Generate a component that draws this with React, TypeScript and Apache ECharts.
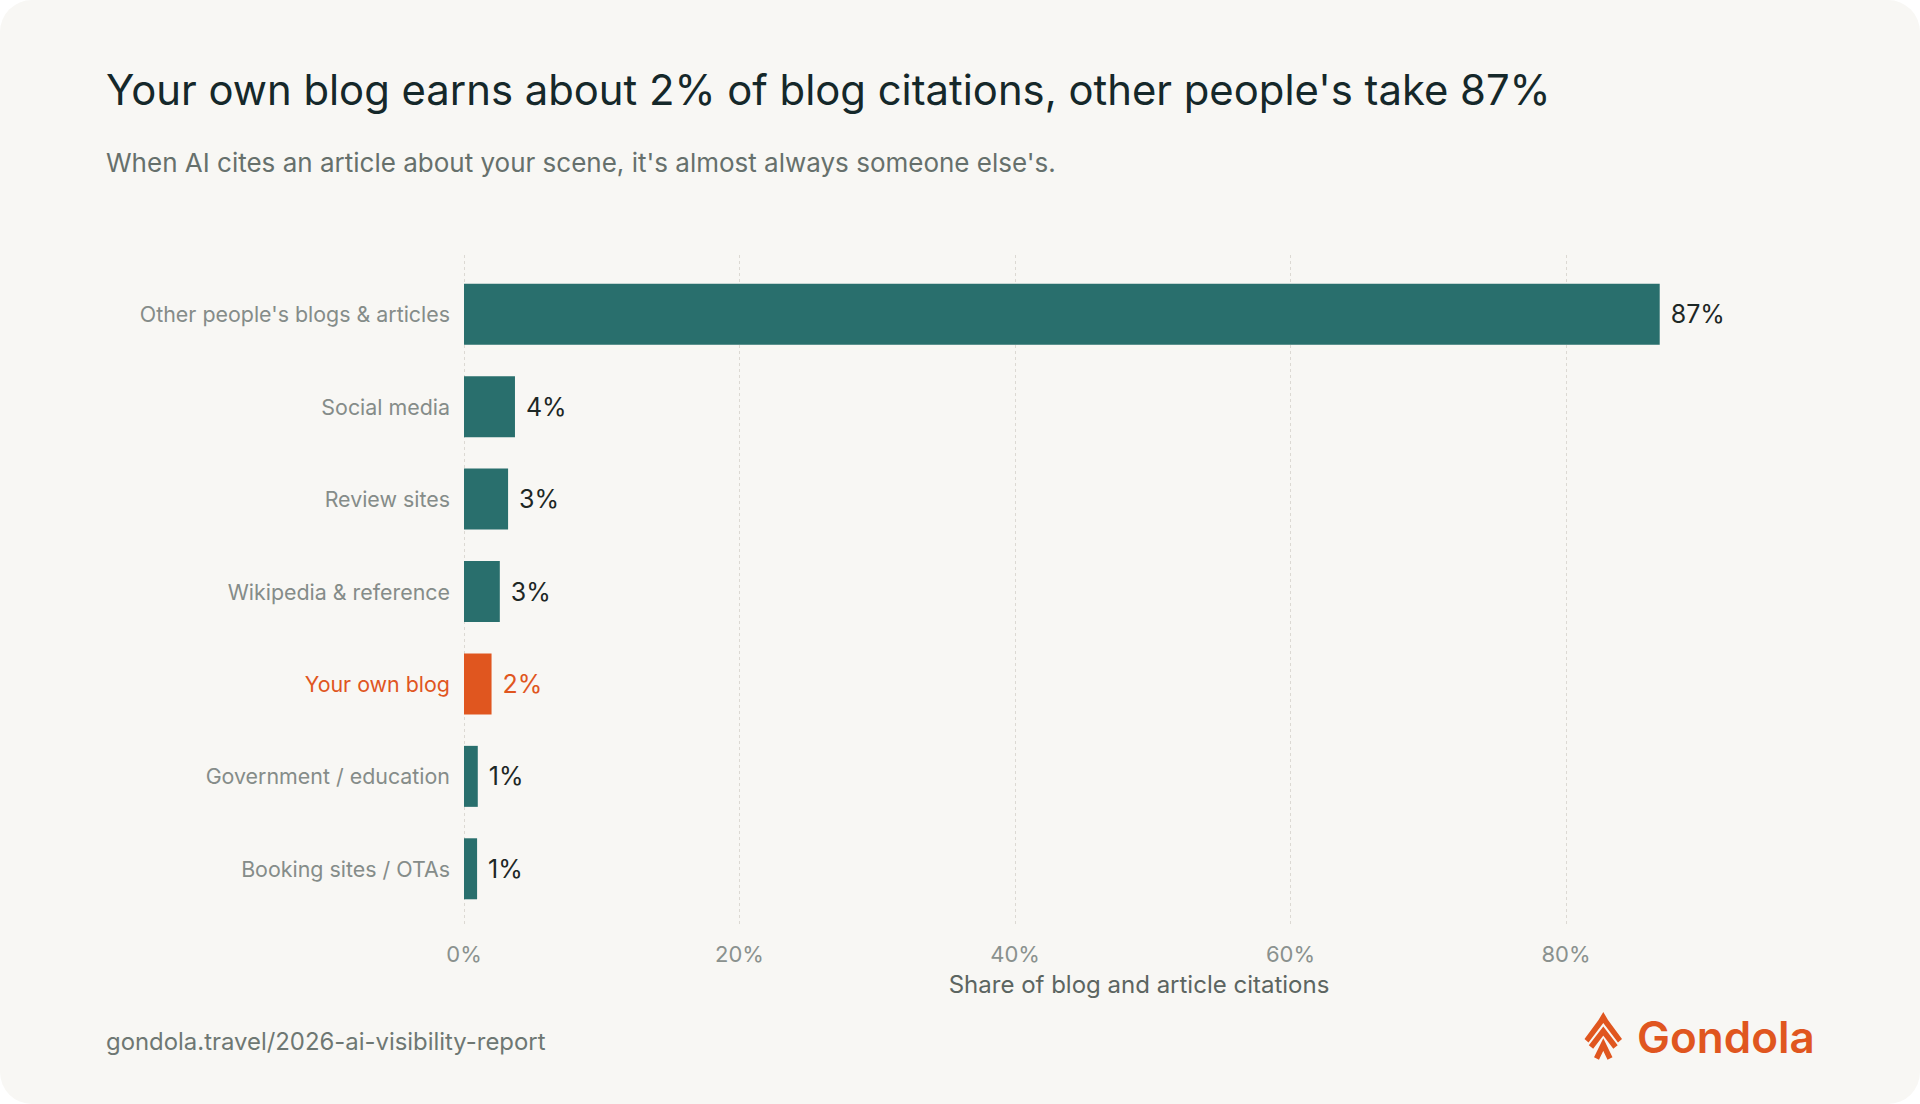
import React, { useEffect, useRef } from "react";
import * as echarts from "echarts";

const categories = [
  "Other people's blogs & articles",
  "Social media",
  "Review sites",
  "Wikipedia & reference",
  "Your own blog",
  "Government / education",
  "Booking sites / OTAs",
];
const shares = [86.8, 3.7, 3.2, 2.6, 2.0, 1.0, 0.95];
const highlightCategory = "Your own blog";

const titleText = "Your own blog earns about 2% of blog citations, other people's take 87%";
const subtitleText = "When AI cites an article about your scene, it's almost always someone else's.";
const axisTitle = "Share of blog and article citations";
const sourceText = "gondola.travel/2026-ai-visibility-report";
const brandText = "Gondola";

const FONT = "Inter, 'Noto Sans', sans-serif";
const CARD = "#f8f7f4";
const TEAL = "#296f6d";
const ORANGE = "#e0561f";
const GRID = "#dcd9d3";

export default function App() {
  const ref = useRef<HTMLDivElement>(null);
  useEffect(() => {
    document.body.style.margin = "0";
    const chart = echarts.init(ref.current!, undefined, { renderer: "svg", width: 1920, height: 1104 });
    const option: any = {
      animation: false,
      backgroundColor: "transparent",
      textStyle: { fontFamily: FONT },
      grid: [
        { left: 464, top: 268, width: 1350, height: 647, containLabel: false },
        { left: 464, top: 255, width: 1350, height: 670, containLabel: false },
      ],
      xAxis: [
        {
          type: "value",
          gridIndex: 0,
          min: 0,
          max: 98,
          interval: 20,
          axisLine: { show: false },
          axisTick: { show: false },
          splitLine: { show: false },
          axisLabel: {
            formatter: (v: number) => `${v}%`,
            showMaxLabel: false,
            color: "#8a918e",
            fontSize: 22,
            fontFamily: FONT,
            margin: 39,
            verticalAlign: "middle",
          },
          name: axisTitle,
          nameLocation: "middle",
          nameGap: 69,
          nameTextStyle: { color: "#5c6561", fontSize: 24, fontFamily: FONT, verticalAlign: "middle" },
        },
        {
          type: "value",
          gridIndex: 1,
          min: 0,
          max: 98,
          interval: 20,
          axisLine: { show: false },
          axisTick: { show: false },
          axisLabel: { show: false },
          splitLine: {
            show: true,
            showMinLine: true,
            showMaxLine: false,
            lineStyle: { color: GRID, width: 1, type: [3, 3] },
          },
        },
      ],
      yAxis: [
        {
          type: "category",
          gridIndex: 0,
          data: categories,
          inverse: true,
          axisLine: { show: false },
          axisTick: { show: false },
          splitLine: { show: false },
          axisLabel: {
            margin: 14,
            fontSize: 21.4,
            fontFamily: FONT,
            color: (v: string) => (v === highlightCategory ? ORANGE : "#858c89"),
          },
        },
        {
          type: "value",
          gridIndex: 1,
          min: 0,
          max: 1,
          show: false,
        },
      ],
      series: [
        {
          type: "bar",
          xAxisIndex: 0,
          yAxisIndex: 0,
          barWidth: 61,
          z: 3,
          data: shares.map((v, i) => ({
            value: v,
            itemStyle: { color: categories[i] === highlightCategory ? ORANGE : TEAL },
            label: { color: categories[i] === highlightCategory ? ORANGE : "#1d2725" },
          })),
          label: {
            show: true,
            position: "right",
            distance: 11,
            fontSize: 25,
            fontFamily: FONT,
            formatter: (p: any) => `${Math.round(p.value)}%`,
          },
        },
      ],
      graphic: [
        {
          type: "text",
          x: 106,
          y: 90,
          style: {
            text: titleText,
            fill: "#15282a",
            fontSize: 41.8,
            fontFamily: FONT,
            fontWeight: 400,
            align: "left",
            verticalAlign: "middle",
          },
        },
        {
          type: "text",
          x: 106,
          y: 162,
          style: {
            text: subtitleText,
            fill: "#66706c",
            fontSize: 26,
            fontFamily: FONT,
            align: "left",
            verticalAlign: "middle",
          },
        },
        {
          type: "text",
          x: 106,
          y: 1041,
          style: {
            text: sourceText,
            fill: "#6e7773",
            fontSize: 23.9,
            fontFamily: FONT,
            align: "left",
            verticalAlign: "middle",
          },
        },
        {
          type: "text",
          x: 1637,
          y: 1037,
          style: {
            text: brandText,
            fill: ORANGE,
            fontSize: 44,
            fontWeight: 600,
            fontFamily: FONT,
            align: "left",
            verticalAlign: "middle",
          },
        },
        {
          type: "polygon",
          shape: {
            points: [
              [1603.3, 1012],
              [1608, 1020],
              [1622, 1039],
              [1618, 1042.5],
              [1603.3, 1023],
              [1588.5, 1042.5],
              [1584.5, 1039],
              [1598.5, 1020],
            ],
          },
          style: { fill: ORANGE },
        },
        {
          type: "polyline",
          shape: { points: [[1591, 1047], [1603.3, 1031], [1615.5, 1047]] },
          style: { stroke: ORANGE, lineWidth: 5.5, fill: null },
        },
        {
          type: "polyline",
          shape: { points: [[1596.5, 1058.5], [1603.3, 1044.5], [1610, 1058.5]] },
          style: { stroke: ORANGE, lineWidth: 5.5, fill: null },
        },
      ],
    };
    chart.setOption(option);
    return () => chart.dispose();
  }, []);
  return (
    <div style={{ position: "fixed", left: 0, top: 0, width: 1920, height: 1104, background: "#ffffff" }}>
      <div
        ref={ref}
        style={{ width: 1920, height: 1104, borderRadius: 32, background: CARD, overflow: "hidden" }}
      />
    </div>
  );
}
